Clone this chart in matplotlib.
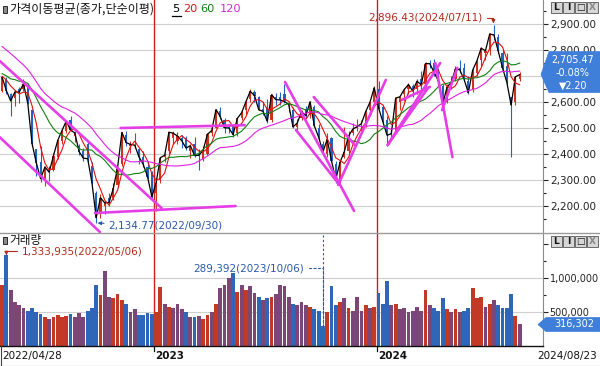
import matplotlib
matplotlib.use("Agg")
import matplotlib.pyplot as plt
import matplotlib.dates as mdates
from matplotlib.patches import Polygon, Rectangle
from matplotlib.lines import Line2D
from matplotlib.ticker import FuncFormatter
import numpy as np
import pandas as pd

# ---------------- data (weekly candles, KOSPI 2022/04/28 - 2024/08/23) ----------------
week_end = pd.date_range("2022-04-29", "2024-08-23", freq="W-FRI")

open_ = [2641, 2687, 2630, 2614, 2650, 2649, 2663, 2570, 2420, 2370, 2300, 2340, 2340, 2390, 2450, 2490, 2532, 2470,
         2430, 2410, 2440, 2355, 2250, 2170, 2200, 2230, 2230, 2280, 2360, 2475, 2430, 2430, 2420, 2390, 2350, 2330,
         2250, 2300, 2390, 2410, 2460, 2450, 2460, 2460, 2410, 2440, 2400, 2380, 2400, 2480, 2500, 2565, 2530, 2505,
         2510, 2480, 2540, 2570, 2610, 2640, 2620, 2575, 2580, 2530, 2620, 2620, 2630, 2590, 2570, 2505, 2540, 2575,
         2550, 2580, 2500, 2440, 2400, 2460, 2360, 2300, 2390, 2410, 2480, 2500, 2510, 2520, 2570, 2600,
         2650, 2580, 2530, 2480, 2485, 2600, 2630, 2650, 2660, 2650, 2690, 2670, 2750, 2750, 2720, 2660, 2600, 2670,
         2690, 2730, 2730, 2680, 2650, 2710, 2760, 2790, 2800, 2860, 2850, 2790, 2740, 2620, 2600, 2690]
high = [2699, 2697, 2635, 2648, 2658, 2690, 2672, 2575, 2420, 2430, 2352, 2352, 2405, 2455, 2497, 2527, 2546, 2490,
        2440, 2425, 2450, 2370, 2258, 2245, 2220, 2250, 2290, 2350, 2485, 2487, 2450, 2480, 2425, 2410, 2375, 2335,
        2295, 2390, 2405, 2485, 2490, 2485, 2475, 2470, 2440, 2465, 2420, 2430, 2480, 2510, 2575, 2580, 2540, 2510,
        2515, 2540, 2570, 2610, 2650, 2648, 2625, 2600, 2610, 2630, 2635, 2640, 2668, 2605, 2580, 2535, 2570, 2585,
        2605, 2590, 2515, 2450, 2480, 2465, 2375, 2370, 2505, 2490, 2520, 2535, 2530, 2570, 2600, 2660,
        2680, 2590, 2545, 2500, 2620, 2625, 2655, 2675, 2670, 2690, 2720, 2755, 2760, 2765, 2730, 2670, 2670, 2700,
        2740, 2760, 2750, 2700, 2730, 2760, 2810, 2800, 2865, 2896.43, 2860, 2800, 2790, 2620, 2700, 2715]
low = [2640, 2630, 2546, 2585, 2598, 2641, 2591, 2431, 2314, 2291, 2277, 2296, 2335, 2380, 2440, 2482, 2490, 2445,
       2395, 2372, 2370, 2285, 2134.77, 2155, 2170, 2200, 2225, 2275, 2355, 2430, 2405, 2425, 2360, 2350, 2305, 2230,
       2180, 2290, 2370, 2400, 2440, 2440, 2425, 2415, 2385, 2390, 2340, 2375, 2395, 2470, 2500, 2535, 2480, 2480,
       2465, 2470, 2530, 2550, 2600, 2600, 2570, 2550, 2520, 2525, 2590, 2590, 2595, 2560, 2500, 2490, 2530, 2540,
       2540, 2505, 2455, 2400, 2390, 2370, 2290, 2273, 2385, 2405, 2475, 2490, 2490, 2505, 2550, 2595,
       2575, 2520, 2429, 2455, 2480, 2570, 2605, 2630, 2620, 2630, 2650, 2650, 2730, 2700, 2670, 2560, 2595, 2650,
       2680, 2710, 2680, 2630, 2640, 2700, 2740, 2760, 2780, 2840, 2790, 2720, 2670, 2387, 2590, 2680]
close = [2695, 2644, 2604, 2639, 2638, 2670, 2595, 2440, 2366, 2305, 2350, 2330, 2393, 2452, 2490, 2527, 2492, 2481,
         2409, 2384, 2382, 2290, 2155, 2232, 2212, 2213, 2268, 2348, 2483, 2444, 2437, 2434, 2389, 2360, 2313, 2236,
         2289, 2386, 2395, 2484, 2480, 2469, 2451, 2423, 2432, 2394, 2395, 2414, 2476, 2490, 2571, 2544, 2501, 2500,
         2475, 2537, 2559, 2601, 2641, 2625, 2570, 2564, 2526, 2628, 2609, 2608, 2602, 2591, 2504, 2519, 2563, 2547,
         2601, 2508, 2465, 2408, 2456, 2375, 2302, 2368, 2409, 2469, 2496, 2505, 2517, 2563, 2599, 2655,
         2578, 2525, 2472, 2478, 2615, 2620, 2648, 2667, 2642, 2680, 2666, 2748, 2747, 2714, 2681, 2591, 2656, 2676,
         2727, 2724, 2687, 2636, 2722, 2758, 2807, 2797, 2862, 2857, 2795, 2731, 2676, 2588, 2697, 2705.47]
volume = [900000, 1333935, 820000, 650000, 600000, 560000, 520000, 560000, 500000, 470000, 430000, 400000,
          420000, 450000, 430000, 440000, 470000, 430000, 480000, 430000, 520000, 560000, 900000, 750000,
          1100000, 720000, 700000, 760000, 680000, 620000, 500000, 540000, 460000, 450000, 480000, 470000,
          500000, 870000, 620000, 580000, 560000, 620000, 540000, 500000, 430000, 420000, 440000, 400000,
          450000, 500000, 620000, 850000, 900000, 1000000, 1070000, 800000, 900000, 820000, 880000, 780000,
          720000, 680000, 700000, 720000, 760000, 900000, 880000, 720000, 620000, 600000, 640000, 600000,
          580000, 540000, 520000, 289392, 500000, 880000, 600000, 640000, 700000, 560000, 520000, 720000,
          520000, 600000, 560000, 580000,
          780000, 620000, 960000, 600000, 620000, 540000, 560000, 500000, 520000, 580000, 520000, 820000,
          600000, 560000, 520000, 700000, 540000, 500000, 540000, 500000, 520000, 560000, 860000, 700000,
          720000, 580000, 620000, 680000, 600000, 560000, 560000, 760000, 440000, 316302]

# weekly closes before the visible window (moving-average warm-up, Nov 2021 - Apr 2022)
hist_close = [2969, 2971, 2936, 2968, 3010, 3017, 3012, 2977, 2954, 2921, 2834, 2663,
              2750, 2747, 2744, 2676, 2713, 2661, 2707, 2729, 2739, 2700, 2696, 2704]

ma_labels = ["5", "20", "60", "120"]
ma_weeks = [1, 4, 12, 24]

# user-drawn trend lines
tl_x0 = ["2022-04-25", "2022-04-25", "2022-09-28", "2022-11-09", "2023-08-05", "2023-08-23", "2023-09-21",
         "2023-10-31", "2024-01-20", "2024-01-20", "2024-02-12", "2024-04-07", "2024-04-18"]
tl_y0 = [2758, 2465, 2173, 2500, 2677, 2492, 2619, 2281, 2435, 2435, 2608, 2750, 2569]
tl_x1 = ["2023-01-15", "2022-10-06", "2023-05-16", "2023-05-31", "2023-11-26", "2023-10-31", "2023-11-27",
         "2024-01-17", "2024-04-15", "2024-03-26", "2024-03-29", "2024-05-05", "2024-05-13"]
tl_y1 = [2192, 2100, 2200, 2511, 2181, 2288, 2435, 2685, 2750, 2654, 2658, 2388, 2731]

price_max, price_max_date = 2896.43, "2024-07-11"
price_min, price_min_date = 2134.77, "2022-09-30"
vol_max, vol_max_date = 1333935, "2022-05-06"
vol_min, vol_min_date = 289392, "2023-10-06"
last_price, last_pct, last_chg, last_vol = 2705.47, -0.08, -2.20, 316302
year_dates = ["2023-01-02", "2024-01-02"]
year_labels = ["2023", "2024"]
start_label, end_label = "2022/04/28", "2024/08/23"
price_ticks = [2200, 2300, 2400, 2500, 2600, 2700, 2800, 2900]
vol_ticks = [500000, 1000000]

# ---------------- style ----------------
RED = "#cc3320"
BLUE = "#2462c2"
VRED = "#c23a26"
VBLUE = "#2f66b8"
PURPLE = "#7a4777"
MA_COLORS = ["#000000", "#e01010", "#118011", "#e020e0"]
TREND = "#e63ee6"
GRID = "#cfcfcf"
KFONT = ["Noto Sans CJK KR", "DejaVu Sans"]

W, H = 600, 366
fig = plt.figure(figsize=(W / 100, H / 100), dpi=100)
fig.patch.set_facecolor("white")


def rect(x0, y0, x1, y1):
    return [x0 / W, 1 - y1 / H, (x1 - x0) / W, (y1 - y0) / H]


def fx(px):
    return px / W


def fy(py):
    return 1 - py / H


ax = fig.add_axes(rect(0, 0, 543, 233))
axv = fig.add_axes(rect(0, 233, 543, 346))

x = mdates.date2num(week_end)
O = np.array(open_, float)
Hh = np.array(high, float)
Lw = np.array(low, float)
C = np.array(close, float)
V = np.array(volume, float)

start = mdates.date2num(pd.Timestamp("2022-04-28"))
for a in (ax, axv):
    a.set_xlim(start - 2.45, start + 886.2)
    a.set_xticks([])
ax.set_ylim(2096.2, 2992.3)
axv.set_ylim(0, 1661800)

# grid
for p in price_ticks:
    ax.axhline(p, color=GRID, lw=0.8, zorder=0)
for v in vol_ticks:
    axv.axhline(v, color=GRID, lw=0.8, zorder=0)

# year separators
for d in year_dates:
    xd = mdates.date2num(pd.Timestamp(d))
    for a in (ax, axv):
        a.axvline(xd, color="#d41c1c", lw=1.0, zorder=1)

# candles
up = C >= O
col = np.where(up, RED, BLUE)
ax.vlines(x, Lw, Hh, colors=col, lw=0.8, zorder=2)
ax.bar(x, np.maximum(np.abs(C - O), 3), bottom=np.minimum(O, C), width=3.6, color=col, lw=0, zorder=2)

# moving averages
full = pd.Series(hist_close + close, dtype=float)
n0 = len(hist_close)
for n, c in zip(ma_weeks, MA_COLORS):
    ma = full.rolling(n).mean().iloc[n0:].to_numpy()
    ax.plot(x, ma, color=c, lw=0.8 if n > 1 else 0.9, zorder=3)

# trend lines
for a0, b0, a1, b1 in zip(tl_x0, tl_y0, tl_x1, tl_y1):
    ax.plot(mdates.date2num(pd.to_datetime([a0, a1])), [b0, b1], color=TREND, lw=1.9,
            solid_capstyle="round", zorder=5)

# volume bars
chg = C / O - 1
vcol = np.where(chg > 0.012, VRED, np.where(chg < -0.012, VBLUE, PURPLE))
axv.bar(x, V, width=6.2, color=vcol, lw=0, zorder=2)

# axes styling
for a in (ax, axv):
    a.set_facecolor("white")
    a.spines["top"].set_visible(False)
    a.spines["left"].set_visible(False)
    a.spines["right"].set_color("#8a8a8a")
    a.yaxis.tick_right()
    a.tick_params(axis="y", which="major", length=3.5, width=0.8, pad=1.5, labelsize=7.5,
                  colors="#222222", labelcolor="#222222")
    a.tick_params(axis="y", which="minor", length=2.2, width=0.8, colors="#222222")
axv.tick_params(axis="y", which="major", labelsize=6.9, pad=1.2)
ax.spines["bottom"].set_visible(False)
axv.spines["bottom"].set_color("#111111")
axv.spines["bottom"].set_linewidth(1.0)

ax.set_yticks(price_ticks)
ax.set_yticks(np.arange(2150, 2960, 100), minor=True)
# the 2,700 label sits under the current-price box, so it is left blank
ax.yaxis.set_major_formatter(FuncFormatter(lambda v, p: "" if abs(v - 2700) < 1 else f"{v:,.2f}"))
axv.set_yticks(vol_ticks + [1500000])
axv.set_yticks([250000, 750000, 1250000], minor=True)
axv.yaxis.set_major_formatter(FuncFormatter(lambda v, p: "" if v > 1200000 else f"{v:,.0f}"))

# panel separator and date-row frame
fig.add_artist(Line2D([0, 1], [fy(233), fy(233)], color="#9a9a9a", lw=1.0, transform=fig.transFigure))
fig.add_artist(Line2D([fx(0.6), fx(0.6)], [fy(346), fy(365.5)], color="#444444", lw=0.8,
                      transform=fig.transFigure))
fig.add_artist(Line2D([0, 1], [fy(365.5), fy(365.5)], color="#444444", lw=0.8, transform=fig.transFigure))

# ---------------- texts ----------------
def icon(px, py):
    fig.add_artist(Rectangle((fx(px), fy(py + 7)), 4 / W, 7 / H, transform=fig.transFigure,
                             facecolor="#8c8c8c", edgecolor="#111111", lw=0.6))


icon(2.5, 6)
fig.text(fx(9), fy(9.5), "가격이동평균(종가,단순이평)", family=KFONT, fontsize=8.7, color="#111111",
         ha="left", va="center")
ma_text_x = [172.5, 183, 200, 220]
title_colors = ["#000000", "#d01818", "#138013", "#d428d4"]
for lbl, px, c in zip(ma_labels, ma_text_x, title_colors):
    fig.text(fx(px), fy(9.5), lbl, family="DejaVu Sans", fontsize=8.2, color=c, ha="left", va="center")
fig.add_artist(Line2D([fx(172), fx(181)], [fy(16), fy(16)], color="black", lw=0.9, transform=fig.transFigure))

icon(2.5, 237)
fig.text(fx(9), fy(240.5), "거래량", family=KFONT, fontsize=8.4, color="#111111", ha="left", va="center")

# price max annotation
ax.annotate(f"{price_max:,.2f}({price_max_date.replace('-', '/')})",
            xy=(mdates.date2num(pd.Timestamp(price_max_date)), price_max), xytext=(-11, 7),
            textcoords="offset pixels", ha="right", va="center", fontsize=7.5, color="#b02a1a",
            arrowprops=dict(arrowstyle="-|>", color="#b02a1a", lw=0.8, mutation_scale=5,
                            connectionstyle="angle,angleA=0,angleB=90,rad=0", shrinkA=1, shrinkB=1),
            zorder=6)
# price min annotation
ax.annotate(f"{price_min:,.2f}({price_min_date.replace('-', '/')})",
            xy=(mdates.date2num(pd.Timestamp(price_min_date)), price_min), xytext=(12, -3),
            textcoords="offset pixels", ha="left", va="center", fontsize=7.5, color="#2a5aaa",
            arrowprops=dict(arrowstyle="-|>", color="#2a5aaa", lw=0.8, mutation_scale=5, shrinkA=1, shrinkB=1),
            zorder=6)
# volume max annotation
axv.annotate(f"{vol_max:,}({vol_max_date.replace('-', '/')})",
             xy=(mdates.date2num(pd.Timestamp(vol_max_date)), vol_max), xytext=(15, 4),
             textcoords="offset pixels", ha="left", va="center", fontsize=7.5, color="#b02a1a",
             arrowprops=dict(arrowstyle="-|>", color="#b02a1a", lw=0.8, mutation_scale=5,
                             connectionstyle="angle,angleA=0,angleB=90,rad=0", shrinkA=1, shrinkB=0),
             zorder=6)
# volume min annotation
vmin_x = mdates.date2num(pd.Timestamp(vol_min_date))
axv.vlines(vmin_x, vol_min, 1661800, colors="#2a5aaa", lw=0.8, linestyles=(0, (2, 2)), zorder=6)
axv.annotate(f"{vol_min:,}({vol_min_date.replace('-', '/')})",
             xy=(vmin_x, vol_min), xytext=(-19, 58), textcoords="offset pixels", ha="right", va="center",
             fontsize=7.5, color="#2a5aaa",
             arrowprops=dict(arrowstyle="-", color="#2a5aaa", lw=0.8, linestyle=(0, (2, 2)),
                             connectionstyle="angle,angleA=0,angleB=90,rad=0", shrinkA=2, shrinkB=0),
             zorder=6)

# date row
fig.text(fx(2), fy(356), start_label, fontsize=7.5, color="#111111", ha="left", va="center")
fig.text(fx(597), fy(356), end_label, fontsize=7.5, color="#111111", ha="right", va="center")
for d, lbl in zip(year_dates, year_labels):
    xd = mdates.date2num(pd.Timestamp(d))
    xp = axv.transData.transform((xd, 0))[0]
    fig.add_artist(Line2D([xp / W, xp / W], [fy(346.5), fy(351)], color="#111111", lw=0.9,
                          transform=fig.transFigure))
    fig.text((xp + 1) / W, fy(356), lbl, fontsize=7.5, fontweight="bold", color="#111111",
             ha="left", va="center")

# current price box
tip = H - ax.transData.transform((start, last_price))[1]
BOX = "#3f7fda"
fig.add_artist(Polygon([(fx(541), fy(tip)), (fx(549), fy(tip - 23)), (fx(600), fy(tip - 23)),
                        (fx(600), fy(tip + 18)), (fx(549), fy(tip + 18))], closed=True,
                       transform=fig.transFigure, facecolor=BOX, edgecolor=BOX, lw=0.5, zorder=10))
fig.text(fx(573), fy(tip - 15), f"{last_price:,.2f}", fontsize=6.9, color="white", ha="center",
         va="center", zorder=11)
fig.text(fx(573), fy(tip - 2), f"{last_pct:.2f}%", fontsize=6.9, color="white", ha="center",
         va="center", zorder=11)
fig.text(fx(573), fy(tip + 11), f"▼{abs(last_chg):.2f}", fontsize=6.9, color="white", ha="center",
         va="center", zorder=11)

# current volume box
vt = H - axv.transData.transform((start, last_vol))[1]
fig.add_artist(Polygon([(fx(538), fy(vt)), (fx(546), fy(vt - 7)), (fx(600), fy(vt - 7)),
                        (fx(600), fy(vt + 7)), (fx(546), fy(vt + 7))], closed=True,
                       transform=fig.transFigure, facecolor=BOX, edgecolor=BOX, lw=0.5, zorder=10))
fig.text(fx(574), fy(vt), f"{last_vol:,}", fontsize=7.0, color="white", ha="center", va="center", zorder=11)

# L I □ X buttons
def buttons(py):
    glyphs = ["L", "I", "□", "X"]
    for i, g in enumerate(glyphs):
        bx = 551 + i * 12
        fig.add_artist(Rectangle((fx(bx), fy(py + 11)), 11 / W, 11 / H, transform=fig.transFigure,
                                 facecolor="#d6d6d6", edgecolor="#555555", lw=0.6, zorder=10))
        fig.text(fx(bx + 5.5), fy(py + 5.5), g, fontsize=6.5, fontweight="bold",
                 color="#888888" if g == "X" else "#111111", ha="center", va="center", zorder=11)


buttons(2)
buttons(236)

fig.savefig("out.png", dpi=100, facecolor="white")
